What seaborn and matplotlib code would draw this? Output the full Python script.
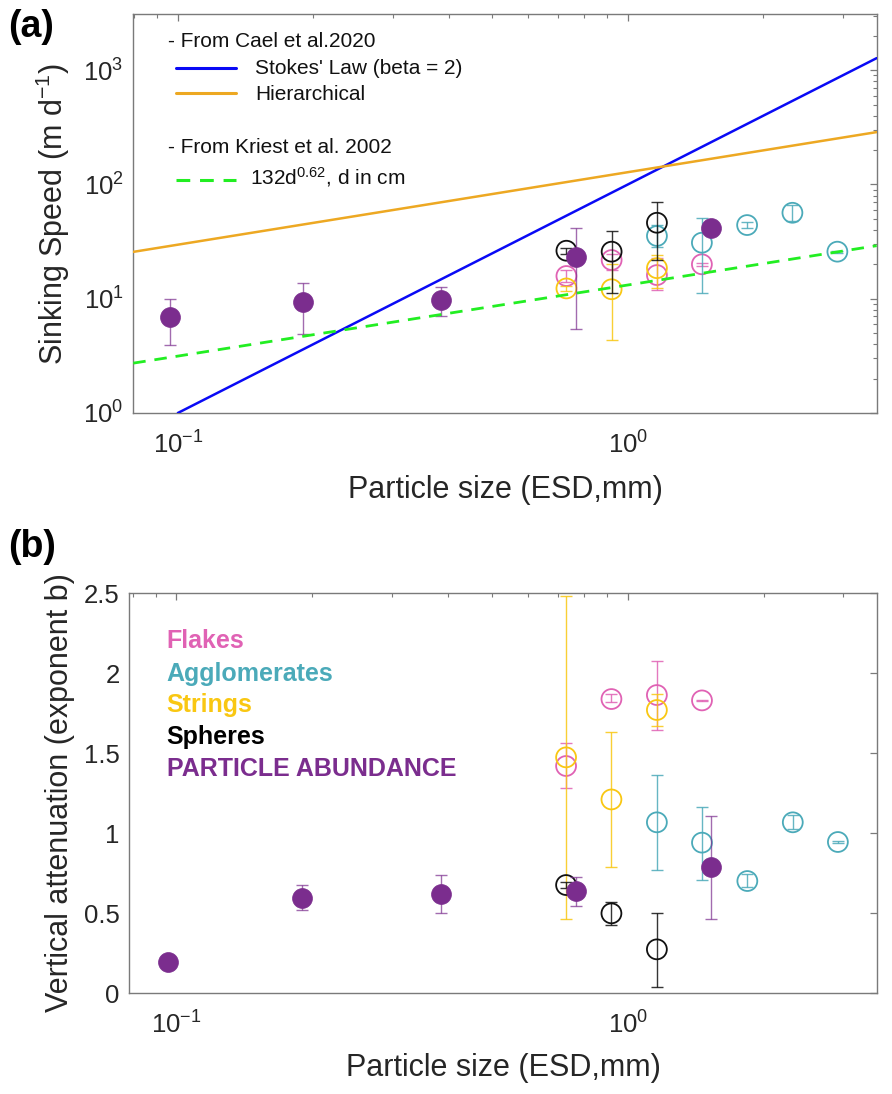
import numpy as np
import pandas as pd
import matplotlib
matplotlib.use("Agg")
import matplotlib.pyplot as plt
import seaborn as sns
from matplotlib.ticker import LogLocator, NullFormatter, LogFormatterSciNotation, FixedLocator, FuncFormatter

# ---------------- data ----------------
# Panel (a): sinking speed (m d-1)
abund_x = [0.096, 0.19, 0.385, 0.766, 1.53]
abund_speed = [6.9, 9.3, 9.8, 23.3, 41.3]
abund_speed_lo = [3.96, 4.94, 7.1, 5.4, 41.3]
abund_speed_hi = [9.9, 13.6, 12.6, 41.3, 41.3]

flakes_x = [0.73, 0.92, 1.16, 1.46]
flakes_speed = [15.8, 21.8, 16.1, 20.0]
flakes_speed_lo = [14.0, 17.8, 11.9, 19.5]
flakes_speed_hi = [18.0, 24.5, 22.5, 20.5]

aggl_x = [1.16, 1.46, 1.84, 2.32, 2.92]
aggl_speed = [35.4, 30.9, 44.1, 56.5, 25.8]
aggl_speed_lo = [28.5, 11.3, 41.3, 48.1, 25.3]
aggl_speed_hi = [44.0, 50.5, 47.2, 66.0, 26.3]

strings_x = [0.73, 0.92, 1.16]
strings_speed = [12.3, 12.1, 18.5]
strings_speed_lo = [11.6, 4.35, 12.3]
strings_speed_hi = [13.0, 20.0, 24.1]

spheres_x = [0.73, 0.92, 1.16]
spheres_speed = [26.3, 25.8, 46.2]
spheres_speed_lo = [24.8, 11.2, 21.8]
spheres_speed_hi = [28.0, 39.3, 70.2]

# model lines (end points)
stokes_x = [0.1, 3.57]
stokes_y = [1.0, 1274.0]
hier_x = [0.0796, 3.57]
hier_y = [25.7, 287.0]
kriest_x = [0.0796, 3.57]
kriest_y = [2.73, 29.1]

# Panel (b): vertical attenuation exponent b
abund_b = [0.196, 0.594, 0.621, 0.6375, 0.790]
abund_b_lo = [0.196, 0.517, 0.50, 0.546, 0.4625]
abund_b_hi = [0.196, 0.677, 0.740, 0.723, 1.108]

flakes_b = [1.419, 1.8375, 1.8625, 1.829]
flakes_b_lo = [1.283, 1.818, 1.644, 1.825]
flakes_b_hi = [1.560, 1.866, 2.075, 1.833]

aggl_b = [1.067, 0.940, 0.700, 1.067, 0.944]
aggl_b_lo = [0.769, 0.706, 0.665, 1.023, 0.940]
aggl_b_hi = [1.365, 1.165, 0.742, 1.1125, 0.948]

strings_b = [1.473, 1.210, 1.769]
strings_b_lo = [0.460, 0.785, 1.671]
strings_b_hi = [2.483, 1.633, 1.866]

spheres_b = [0.675, 0.498, 0.273]
spheres_b_lo = [0.654, 0.425, 0.040]
spheres_b_hi = [0.695, 0.567, 0.502]

class_names = ["Flakes", "Agglomerates", "Strings", "Spheres", "PARTICLE ABUNDANCE"]
yticks_b = [0, 0.5, 1, 1.5, 2, 2.5]

# ---------------- style ----------------
C_PURPLE = "#7B2D8E"
C_PINK = "#E062B4"
C_TEAL = "#4BAAB9"
C_YELLOW = "#F9C712"
C_BLACK = "#111111"
C_BLUE = "#0A0AF5"
C_ORANGE = "#EDA822"
C_GREEN = "#22EE22"
SPINE = "#7a7a7a"

sns.set_theme(style="white")
plt.rcParams["font.family"] = ["Liberation Sans", "DejaVu Sans"]
plt.rcParams["mathtext.fontset"] = "custom"
plt.rcParams["mathtext.rm"] = "Liberation Sans"
plt.rcParams["mathtext.it"] = "Liberation Sans:italic"
plt.rcParams["mathtext.bf"] = "Liberation Sans:bold"
plt.rcParams["mathtext.default"] = "regular"

fig = plt.figure(figsize=(8.92, 10.94), dpi=100)
ax1 = fig.add_axes([0.1494, 0.6225, 0.8334, 0.3647])
ax2 = fig.add_axes([0.1450, 0.0923, 0.8379, 0.3656])

MS = 205


def draw_group(ax, x, v, lo, hi, color, filled, z):
    x = np.asarray(x, float)
    v = np.asarray(v, float)
    lo = np.asarray(lo, float)
    hi = np.asarray(hi, float)
    ax.errorbar(x, v, yerr=[v - lo, hi - v], fmt="none", ecolor=color,
                elinewidth=1.0, capsize=4.5, capthick=1.0,
                alpha=0.7 if filled else 0.85, zorder=z)
    df = pd.DataFrame({"x": x, "y": v})
    if filled:
        sns.scatterplot(data=df, x="x", y="y", ax=ax, marker="o", s=MS,
                        color=color, edgecolor=color, linewidth=0.5, zorder=z + 0.5)
    else:
        sns.scatterplot(data=df, x="x", y="y", ax=ax, marker="o", s=MS,
                        color=color, facecolor="none", edgecolor=color,
                        linewidth=1.3, zorder=z + 0.5)


for ax in (ax1, ax2):
    ax.set_xscale("log")
ax1.set_yscale("log")

# ---------------- panel (a) ----------------
draw_group(ax1, flakes_x, flakes_speed, flakes_speed_lo, flakes_speed_hi, C_PINK, False, 2)
draw_group(ax1, aggl_x, aggl_speed, aggl_speed_lo, aggl_speed_hi, C_TEAL, False, 3)
draw_group(ax1, strings_x, strings_speed, strings_speed_lo, strings_speed_hi, C_YELLOW, False, 4)
draw_group(ax1, spheres_x, spheres_speed, spheres_speed_lo, spheres_speed_hi, C_BLACK, False, 5)
draw_group(ax1, abund_x, abund_speed, abund_speed_lo, abund_speed_hi, C_PURPLE, True, 6)

sns.lineplot(x=stokes_x, y=stokes_y, ax=ax1, color=C_BLUE, linewidth=1.8, zorder=8)
sns.lineplot(x=hier_x, y=hier_y, ax=ax1, color=C_ORANGE, linewidth=1.8, zorder=8)
sns.lineplot(x=kriest_x, y=kriest_y, ax=ax1, color=C_GREEN, linewidth=2.0, zorder=8)
ax1.lines[-1].set_dashes([4.5, 3.2])

ax1.set_xlim(0.0796, 3.57)
ax1.set_ylim(1, 3100)

# legend-like annotations for panel (a)
tf = ax1.transAxes
ax1.text(0.047, 0.9185, "- From Cael et al.2020", transform=tf, fontsize=15,
         color="#111111", va="baseline", ha="left")
ax1.plot([0.0575, 0.138], [0.8655, 0.8655], transform=tf, color=C_BLUE, lw=2.2)
ax1.text(0.1637, 0.8484, "Stokes' Law (beta = 2)", transform=tf, fontsize=15,
         color="#111111", va="baseline", ha="left")
ax1.plot([0.0575, 0.138], [0.8028, 0.8028], transform=tf, color=C_ORANGE, lw=2.2)
ax1.text(0.1637, 0.7857, "Hierarchical", transform=tf, fontsize=15,
         color="#111111", va="baseline", ha="left")
ax1.text(0.047, 0.6504, "- From Kriest et al. 2002", transform=tf, fontsize=15,
         color="#111111", va="baseline", ha="left")
gl, = ax1.plot([0.0575, 0.138], [0.584, 0.584], transform=tf, color=C_GREEN, lw=2.2)
gl.set_dashes([4.5, 3.2])
ax1.text(0.157, 0.5727, "132d$^{0.62}$, d in cm", transform=tf, fontsize=15,
         color="#111111", va="baseline", ha="left")

ax1.set_xlabel("Particle size (ESD,mm)", fontsize=22, color="#262626")
ax1.set_ylabel("Sinking Speed (m d$^{-1}$)", fontsize=22, color="#262626")

# ---------------- panel (b) ----------------
draw_group(ax2, flakes_x, flakes_b, flakes_b_lo, flakes_b_hi, C_PINK, False, 2)
draw_group(ax2, aggl_x, aggl_b, aggl_b_lo, aggl_b_hi, C_TEAL, False, 3)
draw_group(ax2, strings_x, strings_b, strings_b_lo, strings_b_hi, C_YELLOW, False, 4)
draw_group(ax2, spheres_x, spheres_b, spheres_b_lo, spheres_b_hi, C_BLACK, False, 5)
draw_group(ax2, abund_x, abund_b, abund_b_lo, abund_b_hi, C_PURPLE, True, 6)

ax2.set_xlim(0.0787, 3.56)
ax2.set_ylim(0, 2.5)
ax2.yaxis.set_major_locator(FixedLocator(yticks_b))
ax2.yaxis.set_major_formatter(FuncFormatter(lambda v, p: f"{v:g}"))

label_colors = [C_PINK, C_TEAL, C_YELLOW, "#000000", C_PURPLE]
label_y = [0.8625, 0.781, 0.7025, 0.6225, 0.5425]
for name, col, yy in zip(class_names, label_colors, label_y):
    ax2.text(0.050, yy, name, transform=ax2.transAxes, fontsize=18,
             fontweight="bold", color=col, va="baseline", ha="left")

ax2.set_xlabel("Particle size (ESD,mm)", fontsize=22, color="#262626")
ax2.set_ylabel("Vertical attenuation (exponent b)", fontsize=22, color="#262626")

# ---------------- axes cosmetics ----------------
for ax in (ax1, ax2):
    for sp in ax.spines.values():
        sp.set_color(SPINE)
        sp.set_linewidth(1.0)
        sp.set_visible(True)
    ax.xaxis.set_major_locator(LogLocator(base=10, numticks=10))
    ax.xaxis.set_minor_locator(LogLocator(base=10, subs=np.arange(2, 10), numticks=20))
    ax.xaxis.set_minor_formatter(NullFormatter())
    ax.xaxis.set_major_formatter(LogFormatterSciNotation())
    ax.tick_params(which="both", direction="in", top=True, right=True,
                   color=SPINE, labelcolor="#262626", labelsize=18.5)
    ax.tick_params(which="major", length=5, width=0.9)
    ax.tick_params(which="minor", length=3, width=0.8)
    ax.tick_params(axis="x", pad=13)
    ax.tick_params(axis="y", pad=7)
    ax.grid(False)
    ax.set_facecolor("white")

ax1.yaxis.set_major_locator(LogLocator(base=10, numticks=10))
ax1.yaxis.set_minor_locator(LogLocator(base=10, subs=np.arange(2, 10), numticks=20))
ax1.yaxis.set_minor_formatter(NullFormatter())
ax1.yaxis.set_major_formatter(LogFormatterSciNotation())
ax2.tick_params(axis="y", which="minor", left=False, right=False)

ax1.yaxis.set_label_coords(-0.083, 0.5)
ax2.yaxis.set_label_coords(-0.073, 0.5)
ax1.xaxis.set_label_coords(0.5, -0.155)
ax2.xaxis.set_label_coords(0.5, -0.15)

fig.text(0.009, 0.966, "(a)", fontsize=27, fontweight="bold", color="black",
         ha="left", va="baseline")
fig.text(0.009, 0.491, "(b)", fontsize=27, fontweight="bold", color="black",
         ha="left", va="baseline")

fig.savefig("out.png", dpi=100, facecolor="white")
